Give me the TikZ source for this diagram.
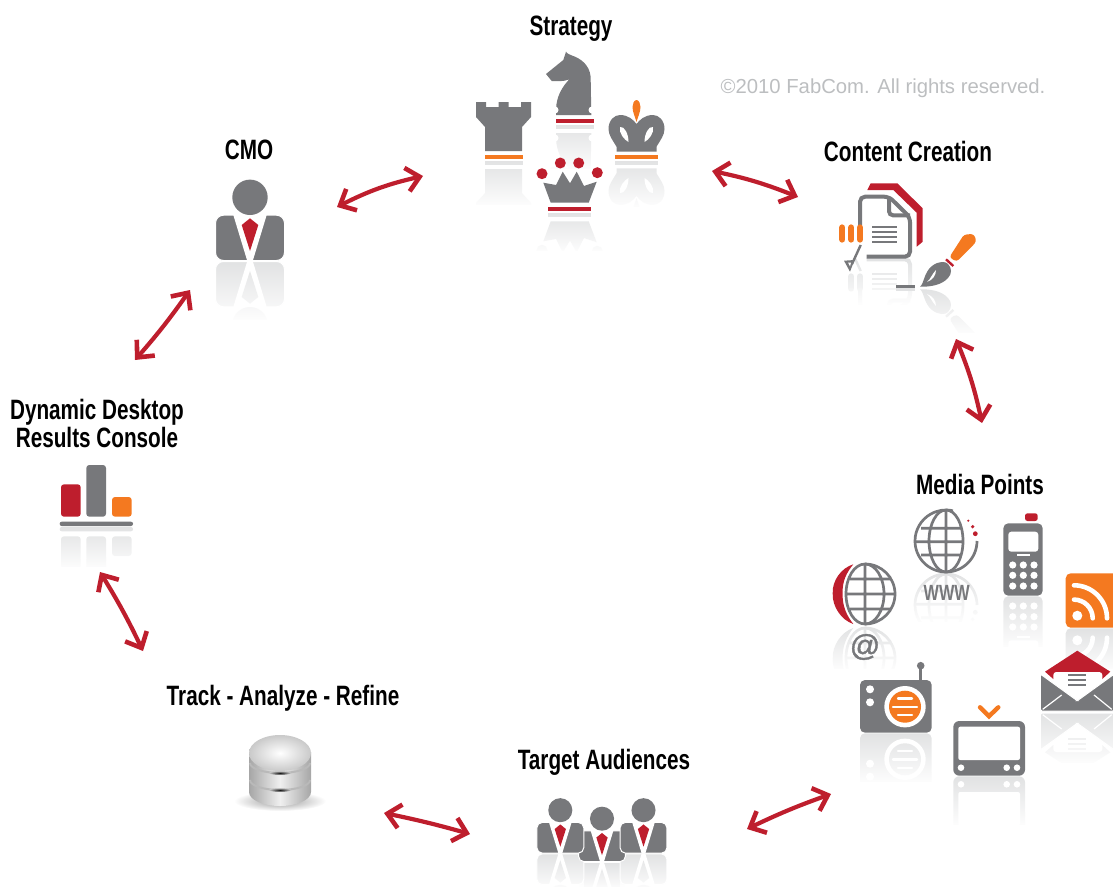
\documentclass[tikz,border=0pt]{standalone}
\usepackage{fontspec}
\usepackage{tikz}
\usetikzlibrary{arrows.meta,fadings}
\newfontfamily\labelfont[FakeStretch=.74]{Liberation Sans}
\newfontfamily\noteFont{Liberation Sans}
\newfontfamily\atFont[FakeBold=1.2]{Liberation Sans}
\definecolor{iconGray}{HTML}{77787B}
\definecolor{iconRed}{HTML}{BE1E2D}
\definecolor{iconOrange}{HTML}{F47920}
\definecolor{mirrorGray}{HTML}{DEDFE0}
\definecolor{noteGray}{HTML}{BCBEC0}
\tikzfading[name=fadeDown,top color=transparent!90,bottom color=transparent!0]
\newcommand{\mirrored}[5]{
  \begin{scope}
    \colorlet{iconGray}{mirrorGray}
    \colorlet{iconRed}{mirrorGray}
    \colorlet{iconOrange}{mirrorGray}
    \clip (#1-#3,#2) rectangle (#1+#3,#2+#4);
    \pic[yscale=-1] at (#1,#2) {#5};
    \fill[white,path fading=fadeDown] (#1-#3,#2) rectangle (#1+#3,#2+#4+4);
  \end{scope}
}
\newcommand{\personBody}[1]{
  \path[fill=iconGray,draw=white,line width=1pt,rounded corners=#1] (-34.5,-45.8) rectangle (34.5,-.5);
  \fill[white] (-17,-47) -- (-2.7,0) -- (2.7,0) -- (17,-47) -- cycle;
  \fill[iconRed] (0,-42.7) -- (8.3,-36) -- (0,-10) -- (-8.3,-36) -- cycle;
  \fill[iconGray] (0,-63.7) circle (17.7);
}
\tikzset{
  rookIcon/.pic={
    \fill[iconOrange] (-19,-5) rectangle (19,-1);
    \fill[iconGray] (-27.5,-58) -- (-17.5,-58) -- (-17.5,-53) -- (-5,-53) -- (-5,-58) -- (5,-58)
      -- (5,-53) -- (17.5,-53) -- (17.5,-58) -- (27.5,-58) -- (27.5,-43) -- (18.5,-33) -- (18.5,-9)
      -- (-18.5,-9) -- (-18.5,-33) -- (-27.5,-43) -- cycle;
  },
  knightIcon/.pic={
    \fill[iconRed] (-19,-5) rectangle (19,-1);
    \fill[iconGray] (-9,-72.3) .. controls (-8,-70) and (-4,-69) .. (0,-67.3)
      .. controls (10,-63) and (16,-55) .. (15.7,-44) -- (16.3,-9) -- (-19,-9) -- (-18.5,-20)
      .. controls (-17,-30) and (-12,-38) .. (-5.7,-44.7) .. controls (-12,-42) and (-18,-43) .. (-23.3,-43)
      -- (-29,-50) -- (-11.7,-64) -- cycle;
    \fill[white] (-20,-14) circle (3.5) (17,-14) circle (3.5);
  },
  queenIcon/.pic={
    \fill[iconRed] (-21.5,-5) rectangle (21.5,-1);
    \fill[iconGray] (-26.2,-29.3) -- (-18.8,-9.3) -- (19.2,-9.3) -- (27.2,-30.3) -- (14.5,-26) -- (7.2,-40.3)
      -- (.5,-28.7) -- (-6.8,-40.3) -- (-13.5,-27) -- cycle;
    \foreach \x/\y in {-27.5/-38.3,-9.2/-49,9.2/-49,27.8/-39.3}
      \fill[iconRed] (\x,\y) circle (5.5);
  },
  kingIcon/.pic={
    \fill[iconOrange] (-21.5,-5) rectangle (21.5,-1);
    \fill[iconGray] (-20,-8.3) -- (20,-8.3) -- (20,-13.3) .. controls (24,-20) and (28,-25) .. (28,-31)
      .. controls (28,-40) and (22,-45) .. (16.5,-45) .. controls (8,-45) and (3,-40) .. (0,-36)
      .. controls (-3,-40) and (-8,-45) .. (-16.5,-45) .. controls (-22,-45) and (-28,-40) .. (-28,-31)
      .. controls (-28,-25) and (-24,-20) .. (-20,-13.3) -- cycle;
    \fill[white] (-16.5,-33) .. controls (-12,-34) and (-8,-26) .. (-8,-18) .. controls (-12,-20) and (-18,-27) .. (-16.5,-33);
    \fill[white] (16.5,-33) .. controls (12,-34) and (8,-26) .. (8,-18) .. controls (12,-20) and (18,-27) .. (16.5,-33);
    \fill[iconOrange] (0,-60) .. controls (2.5,-60) and (4,-56) .. (4,-53) .. controls (4,-48) and (1,-42) .. (0,-38)
      .. controls (-1,-42) and (-4,-48) .. (-4,-53) .. controls (-4,-56) and (-2.5,-60) .. (0,-60);
  },
  personIcon/.pic={
    \personBody{8pt}
  },
  teamPerson/.pic={
    \begin{scope}[scale=.68]
      \personBody{5.5pt}
    \end{scope}
  },
  docIcon/.pic={
    \fill[iconRed] (-12.7,-68) -- (-9.3,-74.7) -- (17.3,-74.7) -- (42.7,-49.7) -- (42.7,-16.3) -- (36.7,-11.3)
      -- (36.7,-45.3) -- (13.3,-68) -- cycle;
    \draw[iconGray,line width=4pt,rounded corners=5pt] (-20,-33) -- (-20,-61.3) -- (9,-61.3) -- (30,-40.7) -- (30,-1.3) -- (-13.3,-1.3);
    \draw[iconGray,line width=4pt,rounded corners=4pt] (9,-61.3) -- (9,-42.7) -- (30,-42.7);
    \foreach \y in {-31.3,-26.3,-21.3,-16.3}
      \draw[iconGray,line width=1.8pt] (-7.7,\y) -- (17,\y);
    \foreach \x in {-37.7,-28.7,-20}
      \draw[iconOrange,line width=6.3pt,line cap=round] (\x,-30.5) -- (\x,-18.5);
    \draw[iconGray,line width=2.4pt] (-19.3,-13) -- (-28,6);
    \fill[iconGray] (-36,2.7) -- (-30,13.7) -- (-25.5,2) -- cycle;
    \fill[white] (-32,4.5) -- (-30,8.5) -- (-29,4.5) -- cycle;
  },
  brushIcon/.pic={
    \fill[iconOrange,rounded corners=3pt] (39.3,-30.7) -- (46.7,-26.3) -- (66.5,-46.3) -- (64,-54) -- (54,-53.5) -- cycle;
    \draw[iconRed,line width=2.4pt] (36,-28.7) -- (43.3,-22);
    \fill[iconGray] (10,-1.3) .. controls (14,-4) and (14,-16) .. (22,-22) .. controls (28,-27) and (36,-27) .. (38,-24)
      .. controls (42,-20) and (42,-14) .. (38,-10) .. controls (32,-3) and (20,-1) .. (10,-1.3);
    \fill[white] (17,-6) .. controls (20,-8) and (22,-14) .. (26,-18) .. controls (26,-13) and (23,-8) .. (17,-6);
    \fill[iconGray] (-14,-2.8) rectangle (5,-.4);
  },
  chartIcon/.pic={
    \fill[iconRed,rounded corners=3pt] (-35,-42.2) rectangle (-15.3,-9.8);
    \fill[iconGray,rounded corners=3pt] (-9.7,-61.5) rectangle (10,-9.8);
    \fill[iconOrange,rounded corners=3pt] (16,-29.5) rectangle (35.7,-9.8);
    \fill[iconGray,rounded corners=2pt] (-36.3,-4.8) rectangle (37,-.5);
  },
  phoneIcon/.pic={
    \fill[iconRed,rounded corners=2.5pt] (2,-75) -- (2,-82.7) -- (14.7,-82.7) -- (14.7,-75) -- cycle;
    \fill[iconGray,rounded corners=5pt] (-19.7,-72.7) rectangle (19.7,-.3);
    \fill[white,rounded corners=3pt] (-14.7,-64.3) rectangle (15.3,-44.3);
    \fill[white] (-6.3,-41.7) rectangle (7,-40.3);
    \foreach \x in {-10.3,.3,11}
      \foreach \y in {-31,-20.7,-10}
        \fill[white] (\x,\y) circle (3.6);
  },
  rssIcon/.pic={
    \fill[iconOrange,rounded corners=5pt] (-26.3,-54.7) rectangle (30,-.3);
    \fill[white] (-14.7,-12.3) circle (5);
    \draw[white,line width=4.6pt,line cap=round] (-18,-28.4) arc[start angle=270,end angle=360,radius=18.7];
    \draw[white,line width=4.6pt,line cap=round] (-18,-42.7) arc[start angle=270,end angle=360,radius=33];
  },
  mailIcon/.pic={
    \fill[iconRed] (-32.3,-40.3) -- (0,-61.3) -- (33,-40.3) -- (25,-33) -- (-24,-33) -- cycle;
    \fill[white,rounded corners=3pt] (-24,-40) rectangle (25,-22);
    \fill[white] (-24,-25) -- (0,-12) -- (25,-25) -- cycle;
    \foreach \y in {-37,-32,-27}
      \draw[iconGray,line width=1.2pt] (-9,\y) -- (9,\y);
    \path[fill=iconGray,draw=white,line width=1pt,rounded corners=1.5pt] (-37,-38) -- (-1,-12) .. controls (0,-11.5) .. (1,-12) -- (37,-38) -- (37,-1) -- (-37,-1) -- cycle;
    \draw[white,line width=1.2pt] (-34.6,-2.7) -- (-15.6,-17) (16.7,-17) -- (34.4,-2.7);
  },
  radioIcon/.pic={
    \draw[iconGray,line width=3pt] (24.7,-67.3) -- (24.7,-53);
    \fill[iconGray] (24.7,-67.3) circle (3.8);
    \fill[iconGray,rounded corners=5pt] (-36,-53) rectangle (35.7,-.3);
    \foreach \y in {-43.7,-30.7}
      \fill[white] (-26,\y) circle (4);
    \fill[white] (9,-26.3) circle (20.7);
    \fill[iconOrange] (9,-26.3) circle (16);
    \foreach \y/\w in {-34.7/7,-26.3/12,-18/7}
      \draw[white,line width=2.4pt,line cap=round] (9-\w,\y) -- (9+\w,\y);
  },
  tvIcon/.pic={
    \draw[iconOrange,line width=4.4pt,line cap=round] (-9,-68.7) -- (0,-59.8) -- (9.3,-68.7);
    \fill[iconGray,rounded corners=6pt] (-35.7,-55) rectangle (36,-.3);
    \fill[white,rounded corners=2pt] (-30.7,-49.3) rectangle (31,-16);
    \foreach \x in {-28,17.7,28}
      \fill[white] (\x,-8.3) circle (3.3);
  },
  atGlobe/.pic={
    \fill[iconRed] (-11.7,-61.7) .. controls (-24,-58) and (-33,-45) .. (-32.3,-32.7) .. controls (-33,-20) and (-24,-6) .. (-11.7,-2)
      .. controls (-18,-10) and (-23,-20) .. (-22.3,-32.7) .. controls (-23,-45) and (-18,-54) .. (-11.7,-61.7) -- cycle;
    \draw[iconGray,line width=2.7pt] (0,-62) arc[start angle=270,end angle=450,radius=30];
    \draw[iconGray,line width=2.7pt] (0,-32) ellipse (19 and 30) (0,-62) -- (0,-2)
      (-15,-47) -- (26,-47) (-19,-32) -- (30,-32) (-15,-17) -- (26,-17);
  },
  webGlobe/.pic={
    \draw[iconGray,line width=2.7pt] (31,-32) arc[start angle=0,end angle=283,radius=31];
    \draw[iconGray,line width=2.7pt] (0,-32) ellipse (17 and 31) (0,-63) -- (0,-1)
      (-25,-44.7) -- (16,-44.7) (-31,-31.3) -- (17,-31.3) (-25,-18) -- (16,-18);
    \foreach \x/\y/\r in {22.3/-52.3/1.2,26.7/-46.3/1.8,29.3/-39.3/2.4}
      \fill[iconRed] (\x,\y) circle (\r);
  },
  dbStack/.pic={
    \shade[inner color=gray!80,outer color=white] (0,29) ellipse (46 and 10);
    \shade[left color=gray!70,right color=gray!70,middle color=gray!12] (-31,-20) -- (-31,20)
      arc[start angle=180,end angle=0,x radius=31,y radius=14] -- (31,-20) -- cycle;
    \foreach \y in {-9,8}
      \draw[gray!55,line width=2pt] (-30,\y) arc[start angle=180,end angle=0,x radius=30,y radius=10];
    \foreach \y in {1,18}
      \shade[inner color=gray!20!black,outer color=gray!45] (0,\y) ellipse (11 and 2);
    \shade[inner color=white,outer color=gray!42] (0,-19) ellipse (31 and 18);
  },
}
\begin{document}
\begin{tikzpicture}[
  x=1pt,
  y=-1pt,
  stepLabel/.style={
    font=\labelfont\bfseries\fontsize{28}{28}\selectfont,
    text=black,
    align=center,
    inner sep=0pt,
  },
  mediaGlyph/.style={
    text=iconGray,
    inner sep=0pt,
  },
  copyLine/.style={
    font=\noteFont\fontsize{20.3}{24}\selectfont,
    text=noteGray,
    inner sep=0pt,
  },
  swapLink/.style={
    draw=iconRed,
    line width=4.2pt,
    {Straight Barb[length=13pt,width=24pt,line width=4.6pt]}-{Straight Barb[length=13pt,width=24pt,line width=4.6pt]},
  }
]
\clip (0,0) rectangle (1113,886);
\mirrored{503.5}{160}{32}{44}{rookIcon}
\mirrored{575}{124}{32}{44}{knightIcon}
\mirrored{636.5}{160}{32}{46}{kingIcon}
\mirrored{569.5}{212}{34}{38}{queenIcon}
\mirrored{250}{261}{36}{58}{personIcon}
\mirrored{880}{258}{34}{46}{docIcon}
\mirrored{910}{288}{70}{44}{brushIcon}
\mirrored{96}{526.5}{40}{40}{chartIcon}
\mirrored{865}{626}{34}{42}{atGlobe}
\mirrored{946}{573}{34}{48}{webGlobe}
\mirrored{1023}{596}{22}{50}{phoneIcon}
\mirrored{1092}{628}{30}{40}{rssIcon}
\mirrored{896}{733}{38}{48}{radioIcon}
\mirrored{989}{776}{38}{48}{tvIcon}
\mirrored{1077.3}{712}{40}{50}{mailIcon}
\mirrored{602}{862}{26}{24}{teamPerson}
\mirrored{560.3}{853.5}{24}{34}{teamPerson}
\mirrored{643.5}{853.5}{24}{34}{teamPerson}
\pic at (503.5,160) {rookIcon};
\pic at (575,124) {knightIcon};
\pic at (636.5,160) {kingIcon};
\pic at (569.5,212) {queenIcon};
\pic at (250,261) {personIcon};
\pic at (880,258) {docIcon};
\pic at (910,288) {brushIcon};
\pic at (96,526.5) {chartIcon};
\pic at (865,626) {atGlobe};
\pic at (946,573) {webGlobe};
\pic at (1023,596) {phoneIcon};
\pic at (1092,628) {rssIcon};
\pic at (896,733) {radioIcon};
\pic at (989,776) {tvIcon};
\pic at (1077.3,712) {mailIcon};
\pic at (280,772) {dbStack};
\pic at (602,862) {teamPerson};
\pic at (560.3,853.5) {teamPerson};
\pic at (643.5,853.5) {teamPerson};
\node[mediaGlyph,font=\labelfont\bfseries\fontsize{22}{22}\selectfont] (wwwText) at (946.7,592.7) {WWW};
\node[mediaGlyph,font=\atFont\fontsize{30}{30}\selectfont] (atText) at (865,647) {@};
\node[stepLabel] (strategyLabel) at (571,29) {Strategy};
\node[stepLabel] (cmoLabel) at (249,150) {CMO};
\node[stepLabel] (contentLabel) at (908,151) {Content Creation};
\node[stepLabel] (mediaLabel) at (980,484) {Media Points};
\node[stepLabel] (consoleLabel) at (97,423) {Dynamic Desktop\\Results Console};
\node[stepLabel] (trackLabel) at (283,698) {Track - Analyze - Refine};
\node[stepLabel] (targetLabel) at (604,762) {Target Audiences};
\node[copyLine] (copyNote) at (883,88) {©2010 FabCom. All rights reserved.};
\foreach \n/\x/\y in {cmoA/337/207,stratA/423/176,stratB/712/171,contentA/798/197,contentB/956/339,mediaA/982/423,
  mediaB/831/794,targetA/747/829,targetB/470/834,trackA/384/813,trackB/143/651,consoleA/100/572,consoleB/135/360,cmoB/190/290}
  \coordinate (\n) at (\x,\y);
\foreach \a/\b/\c in {cmoA/stratA/7,stratB/contentA/5,contentB/mediaA/5}
  \draw[swapLink] (\a) to[bend left=\c] (\b);
\foreach \a/\b/\c in {mediaB/targetA/3,targetB/trackA/2,trackB/consoleA/3,consoleB/cmoB/3}
  \draw[swapLink] (\a) to[bend right=\c] (\b);
\end{tikzpicture}
\end{document}
